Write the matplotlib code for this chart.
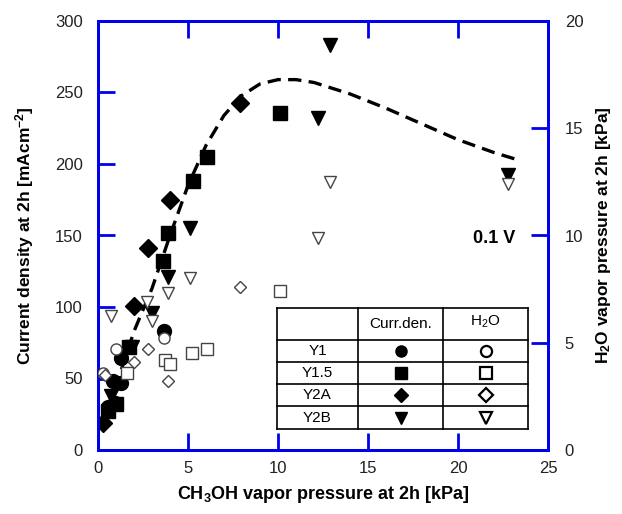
import matplotlib
matplotlib.use("Agg")
import matplotlib.pyplot as plt
from matplotlib.patches import Rectangle

plt.rcParams['font.family'] = ['Liberation Sans', 'DejaVu Sans']
plt.rcParams['mathtext.default'] = 'regular'

# ---- data: current density (left axis, filled markers) ----
y1_x = [0.55, 0.95, 0.85, 1.3, 1.3, 3.65]
y1_cd = [30, 33, 48, 47, 64, 83]
y15_x = [0.55, 1.0, 1.7, 3.6, 3.9, 5.3, 6.05, 10.1]
y15_cd = [27, 32, 72, 132, 152, 188, 205, 236]
y2a_x = [0.3, 2.0, 2.8, 4.0, 7.9]
y2a_cd = [19, 101, 141, 175, 243]
y2b_x = [0.7, 1.9, 3.0, 3.9, 5.1, 12.2, 12.9, 22.8]
y2b_cd = [38, 72, 96, 121, 155, 232, 283, 192]

# ---- data: H2O vapor pressure (right axis, open markers) ----
y1_hx = [0.3, 1.0, 3.65]
y1_h2o = [3.6, 4.7, 5.2]
y15_hx = [1.6, 3.7, 4.0, 5.2, 6.05, 10.1]
y15_h2o = [3.6, 4.2, 4.0, 4.5, 4.7, 7.4]
y2a_hx = [0.4, 2.0, 2.8, 3.9, 7.9]
y2a_h2o = [3.5, 4.1, 4.7, 3.2, 7.6]
y2b_hx = [0.7, 2.7, 3.0, 3.9, 5.1, 12.2, 12.9, 22.8]
y2b_h2o = [6.25, 6.9, 6.0, 7.3, 8.0, 9.9, 12.5, 12.4]

# ---- dashed trend curve ----
fit_x = [0.3, 1.0, 2.0, 3.0, 4.0, 5.0, 6.0, 7.0, 8.0, 9.0, 10.0, 11.0, 12.0,
         14.0, 16.0, 18.0, 20.0, 22.0, 23.3]
fit_y = [15, 45, 83, 113, 150, 185, 213, 234, 248, 256, 259, 259, 257,
         249, 239, 228, 217, 208, 203]

samples = ['Y1', 'Y1.5', 'Y2A', 'Y2B']
markers = ['o', 's', 'D', 'v']

blue = '#0000ee'
W, H = 622, 514
fig = plt.figure(figsize=(W / 100, H / 100), dpi=100)
ax = fig.add_axes([98 / W, (H - 450) / H, 450 / W, 429 / H])
ax2 = ax.twinx()

filled = [(y1_x, y1_cd, 'o', 10), (y15_x, y15_cd, 's', 10),
          (y2a_x, y2a_cd, 'D', 9), (y2b_x, y2b_cd, 'v', 10)]
for xs, ys, m, ms in filled:
    ax.plot(xs, ys, linestyle='none', marker=m, color='black', markersize=ms, zorder=3)

opens = [(y1_hx, y1_h2o, 'o', 8), (y15_hx, y15_h2o, 's', 8),
         (y2a_hx, y2a_h2o, 'D', 6.5), (y2b_hx, y2b_h2o, 'v', 8)]
for xs, ys, m, ms in opens:
    ax2.plot(xs, ys, linestyle='none', marker=m, markerfacecolor='white',
             markeredgecolor='#444444', markeredgewidth=1.0, markersize=ms, zorder=3)

ax.plot(fit_x, fit_y, color='black', lw=2.4, linestyle=(0, (4, 2.2)), zorder=4)

ax.set_xlim(0, 25)
ax.set_ylim(0, 300)
ax2.set_ylim(0, 20)
ax.set_xticks([0, 5, 10, 15, 20, 25])
ax.set_yticks([0, 50, 100, 150, 200, 250, 300])
ax2.set_yticks([0, 5, 10, 15, 20])

for a in (ax, ax2):
    for s in a.spines.values():
        s.set_color(blue)
        s.set_linewidth(2)
ax.tick_params(axis='both', direction='in', length=12, width=2, color=blue,
               labelsize=12, labelcolor='#222222', top=True)
ax.tick_params(axis='y', pad=11)
ax.tick_params(axis='x', pad=8)
ax2.tick_params(axis='y', direction='in', length=12, width=2, color=blue,
                labelsize=12, labelcolor='#222222', pad=12)

ax.set_xlabel('CH$_3$OH vapor pressure at 2h [kPa]', fontsize=13, fontweight='bold', labelpad=6)
ax.set_ylabel('Current density at 2h [mAcm$^{-2}$]', fontsize=12.5, fontweight='bold')
ax2.set_ylabel('H$_2$O vapor pressure at 2h [kPa]', fontsize=12.5, fontweight='bold')
ax.yaxis.set_label_coords(-0.137, 0.5)
ax2.yaxis.set_label_coords(1.103, 0.5)

ax.text(23.2, 148, '0.1 V', fontsize=13, fontweight='bold', ha='right', va='center')

# ---- table legend ----
def px2ax(px, py):
    return (px - 98) / 450, (450 - py) / 429

x0, x1, x2, x3 = 277, 358, 443, 528
ytop, yh = 308, 340
rows = [340, 362, 384, 406, 429]
tcol = 'black'
lw = 1.2
for yy in [ytop, yh] + rows[1:]:
    a, b = px2ax(x0, yy)
    c, _ = px2ax(x3, yy)
    ax.plot([a, c], [b, b], color=tcol, lw=lw, transform=ax.transAxes, clip_on=False, zorder=6)
for xx in [x0, x1, x2, x3]:
    a, b = px2ax(xx, ytop)
    _, d = px2ax(xx, rows[-1])
    ax.plot([a, a], [b, d], color=tcol, lw=lw, transform=ax.transAxes, clip_on=False, zorder=6)
a, b = px2ax(x0, rows[-1])
c, d = px2ax(x3, ytop)
ax.add_patch(Rectangle((a, b), c - a, d - b, transform=ax.transAxes,
                       facecolor='white', edgecolor='none', zorder=5))

hx, hy = px2ax((x1 + x2) / 2, (ytop + yh) / 2)
ax.text(hx, hy, 'Curr.den.', transform=ax.transAxes, ha='center', va='center', fontsize=11, zorder=7)
hx, hy = px2ax((x2 + x3) / 2, (ytop + yh) / 2 - 2)
ax.text(hx, hy, 'H$_2$O', transform=ax.transAxes, ha='center', va='center', fontsize=11, zorder=7)
for i, (name, m) in enumerate(zip(samples, markers)):
    cy = (rows[i] + rows[i + 1]) / 2
    tx, ty = px2ax((x0 + x1) / 2, cy)
    ax.text(tx, ty, name, transform=ax.transAxes, ha='center', va='center', fontsize=11, zorder=7)
    mx, my = px2ax((x1 + x2) / 2, cy)
    ax.plot([mx], [my], marker=m, color='black', markersize=8 if m != 'D' else 7,
            transform=ax.transAxes, clip_on=False, zorder=7, linestyle='none')
    mx, my = px2ax((x2 + x3) / 2, cy)
    ax.plot([mx], [my], marker=m, markerfacecolor='white', markeredgecolor='black',
            markeredgewidth=1.6, markersize=8 if m != 'D' else 7,
            transform=ax.transAxes, clip_on=False, zorder=7, linestyle='none')

fig.savefig('out.png', dpi=100)
